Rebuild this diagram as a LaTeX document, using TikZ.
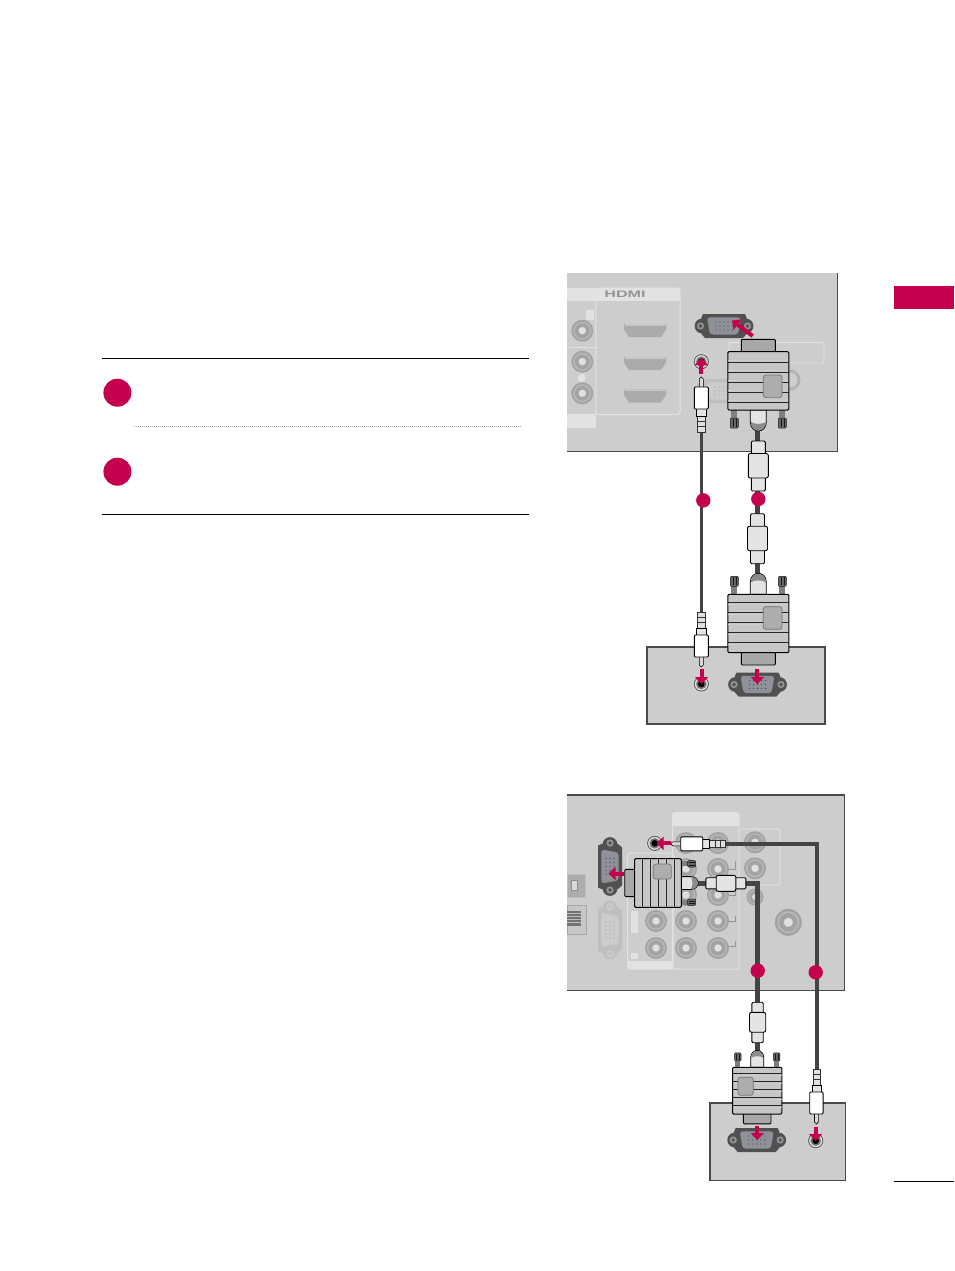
\documentclass[tikz,border=0pt]{standalone}
\usepackage{fontspec}
\setmainfont{Liberation Sans}
\usetikzlibrary{arrows.meta}
\definecolor{lgred}{HTML}{C4004F}
\definecolor{panel}{HTML}{CDCDCD}
\definecolor{edge}{HTML}{4A4A4A}
\definecolor{cablec}{HTML}{444444}
\definecolor{bodyc}{HTML}{C6C6C6}
\definecolor{lightf}{HTML}{E4E4E4}
\definecolor{groupl}{HTML}{E2E2E2}
\definecolor{vgain}{HTML}{8F9199}
\definecolor{vgaout}{HTML}{505050}
\tikzset{
  panelbox/.style={fill=panel,draw=none},
  paneledge/.style={draw=edge,line width=1.6pt},
  groupbox/.style={draw=groupl,line width=1pt,rounded corners=2.5pt},
  cable/.style={draw=cablec,line width=4.6pt},
  badge/.style={circle,fill=lgred,draw=none,inner sep=0pt,minimum size=14.4pt},
  bigbadge/.style={circle,fill=lgred,draw=none,inner sep=0pt,minimum size=28pt},
  pinarrow/.style={draw=lgred,line width=4pt,-{Triangle[length=7pt,width=13pt]}},
  rule/.style={draw=black,line width=1pt},
  plugline/.style={draw=black!85,line width=1pt},
  pics/rca/.style={code={
    \fill[black!36] (0,0) circle (#1);
    \fill[black!28] (0,0) circle ({#1*.82});
    \fill[black!36] (0,0) circle ({#1*.68});
    \fill[black!12] (0,0) circle ({#1*.34});
  }},
  pics/hdmiport/.style={code={
    \fill[black!33] (-21,-6.5) -- (21,-6.5) -- (21,-1) -- (16,6.5) -- (-16,6.5) -- (-21,-1) -- cycle;
    \fill[black!22] (-20,-6.5) rectangle (20,-4.8);
  }},
  pics/jack/.style={code={
    \fill[white!85!black] (0,0) circle (8.6);
    \fill[black!65] (0,0) circle (7.6);
    \fill[black!15] (0,0) circle (6.6);
    \fill[black!55] (0,0) circle (5.2);
    \fill[black] (0,0) circle (3.3);
  }},
  pics/vgaport/.style n args={4}{code={
    \fill[#1] (-22,0) circle (7.4) (22,0) circle (7.4);
    \fill[#1] (-22,-7.4) -- (-23,-7.4) -- (-21,-12) -- (21,-12) -- (23,-7.4) -- (22,-7.4)
      -- (22,7.4) -- (23,7.4) -- (19,12) -- (-19,12) -- (-23,7.4) -- (-22,7.4) -- cycle;
    \fill[#2,rounded corners=3pt] (-17,-8.6) -- (17,-8.6) -- (14,8.6) -- (-14,8.6) -- cycle;
    \fill[#4] (-23.5,0) circle (3.6) (23.5,0) circle (3.6);
    \fill[#1] (-23.5,0) circle (1.8) (23.5,0) circle (1.8);
    \foreach \i in {-8,-4,0,4,8}{\fill[#3] (\i,-4) circle (.6) (\i,0) circle (.6) (\i,4) circle (.6);}
  }},
  pics/vgaplug/.style={code={
    \foreach \s in {-24,24}{
      \fill[black!50] (\s-3,-9) rectangle (\s+3,0);
      \filldraw[fill=black!60,draw=black!90,line width=.5pt,rounded corners=1pt] (\s-4,-18) rectangle (\s+4,-8);
      \draw[black!90,line width=.4pt] (\s-1.5,-17) -- (\s-1.5,-9) (\s+1.5,-17) -- (\s+1.5,-9);
    }
    \filldraw[fill=lightf,draw=black,line width=.8pt] (-8,0) -- (-8,-12) .. controls (-8,-18) and (-4,-21) .. (0,-21) .. controls (4,-21) and (8,-18) .. (8,-12) -- (8,0) -- cycle;
    \fill[black!45] (-7.6,-12) .. controls (-7,-18) and (-4,-20.6) .. (0,-20.6) .. controls (4,-20.6) and (7,-18) .. (7.6,-12) .. controls (4,-14.5) and (-4,-14.5) .. (-7.6,-12) -- cycle;
    \filldraw[fill=bodyc!85!black,draw=black,line width=.9pt,rounded corners=1pt] (-17,57) rectangle (17,70.7);
    \filldraw[fill=bodyc,draw=black,line width=1pt,rounded corners=1.2pt] (-30.5,0) rectangle (30.5,58.4);
    \foreach \y in {8,18,28,38,48}{
      \draw[white!80!black,line width=.7pt] (-30,\y+1.7) -- (30,\y+1.7);
      \draw[plugline] (-30.5,\y) -- (30.5,\y);
    }
    \filldraw[fill=black!32,draw=black!55,line width=.7pt,rounded corners=2.5pt] (5,12.4) rectangle (23.7,35);
  }},
  pics/ferrite/.style={code={
    \filldraw[fill=lightf,draw=black,line width=.9pt,rounded corners=1.2pt] (-7,-25) rectangle (7,25);
    \filldraw[fill=lightf,draw=black,line width=.9pt,rounded corners=2pt] (-10,-12.5) rectangle (10,12);
  }},
  pics/audioplug/.style={code={
    \filldraw[fill=black!15,draw=black,line width=.6pt] (-2,44) -- (-2,53) -- (0,55) -- (2,53) -- (2,44) -- cycle;
    \foreach \y in {0,5.3,10.6}{
      \filldraw[fill=black!12,draw=black!80,line width=.7pt] (-3.7,\y) rectangle (3.7,\y+5.3);
    }
    \filldraw[fill=lightf,draw=black,line width=.7pt] (-4.7,16) rectangle (4.7,23.5);
    \filldraw[fill=white,draw=black,line width=.9pt,rounded corners=1pt] (-7,23) rectangle (7,45);
  }},
}
\begin{document}
\begin{tikzpicture}[x=1pt,y=-1pt]
\useasboundingbox (0,0) rectangle (954,1271);
\fill[white] (0,0) rectangle (954,1271);

% ---------- left column ----------
\draw[rule] (102,358.3) -- (529,358.3);
\draw[rule] (102,514.2) -- (529,514.2);
\draw[black!35,line width=.8pt,dash pattern=on 1pt off 1pt] (134,426.6) -- (522,426.6);
\node[bigbadge] (step1) at (117.4,392.7) {};
\node[bigbadge] (step2) at (117.4,471.7) {};

% ---------- right margin ----------
\fill[lgred] (894,286) rectangle (954,309);
\draw[black,line width=1pt] (894,1181) -- (954,1181);

% ---------- panel A ----------
\fill[panelbox] (567,273) rectangle (837.5,451);
\draw[paneledge,line width=1.2pt] (837.6,273) -- (837.6,451.2) -- (567,451.2);
\fill[groupl] (567,288) -- (680,288) -- (680,301) -- (567,301) -- cycle;
\fill[groupl,rounded corners=2pt] (567,414) rectangle (596,428);
\draw[groupbox] (595.8,288) rectangle (680,414.5);
\draw[groupl,line width=1pt] (567,347.3) -- (595.8,347.3) (567,414.5) -- (595.8,414.5);
\node[text=black!42,font=\bfseries\fontsize{9.5}{9.5}\selectfont,xscale=1.7,inner sep=0pt] (hdmilabel) at (625,294.3) {HDMI};
\pic at (582.3,330.7) {rca=11};
\pic at (582.3,361.7) {rca=11};
\pic at (582.3,393.3) {rca=11};
\fill[groupl] (586,310) rectangle (594,319.5);
\fill[groupl] (581.7,378) circle (4);
\pic at (645,330.7) {hdmiport};
\pic at (645,363.7) {hdmiport};
\pic at (645,396) {hdmiport};
\draw[groupbox,line width=.9pt] (729,342.3) rectangle (824,363);
\fill[black!30] (790,380) circle (10.5);
\fill[panel] (790,380) circle (7.5);
\pic at (723,391) {vgaport={black!25}{black!20}{black!40}{black!20}};
\pic at (724,326) {vgaport={vgaout}{vgain}{black!70}{black!42}};
\pic at (701.3,361.7) {jack};

% cables panel A
\coordinate (a1top) at (701.3,432);
\coordinate (a1bot) at (701.3,612);
\coordinate (a2top) at (757.5,431);
\coordinate (a2bot) at (757.5,573);
\draw[cable,line width=3.2pt] (a1top) -- (a1bot);
\draw[cable,line width=4.5pt] (a2top) -- (a2bot);

\pic[yscale=-1] at (701.3,432) {audioplug};
\pic[yscale=-1] at (758.3,410) {vgaplug};
\pic at (758.3,466) {ferrite};
\node[badge] (a1b) at (703.3,500.4) {};
\node[badge] (a2b) at (758.3,499) {};

% ---------- box B ----------
\fill[panelbox] (647,647) rectangle (825,724.2);
\draw[paneledge] (647,647) rectangle (825,724.2);
\pic at (701.3,684) {jack};
\pic at (757.5,684.5) {vgaport={vgaout}{vgain}{black!70}{black!42}};
\pic at (701.3,612) {audioplug};
\pic at (758.3,594.3) {vgaplug};
\pic at (757.5,538.7) {ferrite};
\coordinate (a1p) at (701.5,669); \coordinate (a1q) at (701.5,684);
\coordinate (a2p) at (757.3,669); \coordinate (a2q) at (757.3,684);
\coordinate (a3p) at (701.3,374); \coordinate (a3q) at (701.3,358);
\coordinate (a4p) at (752.7,336); \coordinate (a4q) at (732,320.5);
\draw[pinarrow] (a1p) -- (a1q);
\draw[pinarrow] (a2p) -- (a2q);
\draw[pinarrow] (a3p) -- (a3q);
\draw[pinarrow] (a4p) -- (a4q);

% ---------- panel C ----------
\fill[panelbox] (567,795) rectangle (844.6,990);
\draw[paneledge] (567,795) -- (844.6,795) -- (844.6,990.3) -- (567,990.3);
\fill[groupl,rounded corners=2pt] (672.3,812.7) rectangle (739,826);
\fill[groupl] (627.7,961) rectangle (673,969);
\draw[groupbox] (627.7,853) rectangle (673,969);
\draw[groupbox] (672.3,812.7) rectangle (739,969);
\draw[groupl,line width=1pt,rounded corners=2.5pt] (742,829) -- (780,829) -- (780,885) -- (742,885);
\draw[black!42,line width=.5pt] (728,869) -- (735,869) -- (735,861) (728,895) -- (735,895) -- (735,889)
  (728,921) -- (735,921) -- (735,916) (728,946) -- (735,946) -- (735,941);
% left modules
\filldraw[fill=black!32,draw=black!25,line width=.8pt] (567,874) rectangle (585,897);
\filldraw[fill=black!15,draw=black!45,line width=.6pt] (571,880.5) rectangle (577,890.5);
\filldraw[fill=black!22,draw=black!35,line width=.8pt] (567,905) rectangle (586.7,934);
\fill[black!55] (567,911) rectangle (581,926);
\foreach \y in {913,916,919,922}{\draw[black!25,line width=.5pt] (567,\y) -- (581,\y);}
\pic[rotate=90] at (610,930) {vgaport={black!25}{black!20}{black!40}{black!20}};
\fill[groupl] (631,910.7) rectangle (638.3,932.7);
\fill[groupl] (631,953) rectangle (638.3,959);
% jacks
\foreach \x/\y in {686/843,718/843,718/869,686/869,686/895,718/895,656/921,686/921,718/921,656/948,686/948,718/948,755/842.3,755/868.3}{
  \pic at (\x,\y) {rca=11};
}
\pic at (755,897) {rca=8.5};
\pic at (788.3,922.3) {rca=13.5};
\pic at (654.7,843.3) {jack};
\pic[rotate=90] at (610,866.5) {vgaport={vgaout}{vgain}{black!70}{black!42}};

% cables panel C
\coordinate (c1a) at (698,883.3);
\coordinate (c1b) at (757.7,883.3);
\coordinate (c1c) at (757.7,1051);
\coordinate (c2a) at (725.7,843.8);
\coordinate (c2b) at (816.8,843.8);
\coordinate (c2c) at (816.8,1069);
\draw[cable,line join=miter] (c1a) -- (c1b) -- (c1c);
\draw[cable,line join=miter] (c2a) -- (c2b) -- (c2c);

% ---------- box D ----------
\fill[panelbox] (710,1103) rectangle (845.6,1180.6);
\draw[paneledge] (710,1103) rectangle (845.6,1180.6);
\pic at (815.7,1140.7) {jack};
\pic at (756.7,1140) {vgaport={vgaout}{vgain}{black!70}{black!42}};

\pic[xscale=-.81,yscale=.8] at (757.2,1067.3) {vgaplug};
\pic[scale=.81] at (757.6,1022.5) {ferrite};
\pic[xscale=.95,yscale=1] at (816.4,1069) {audioplug};
\pic[rotate=-90,xscale=-.8,yscale=.8] at (681.3,883) {vgaplug};
\pic[rotate=-90] at (725.7,843.8) {audioplug};
\pic[rotate=-90,xscale=.8,yscale=.8] at (725.8,883.3) {ferrite};

\coordinate (c3p) at (671,843.3); \coordinate (c3q) at (656.5,843.3);
\coordinate (c4p) at (624,873.5); \coordinate (c4q) at (608.5,873.5);
\coordinate (c5p) at (757.3,1125.5); \coordinate (c5q) at (757.3,1140);
\coordinate (c6p) at (815.7,1126.5); \coordinate (c6q) at (815.7,1141);
\draw[pinarrow] (c3p) -- (c3q);
\draw[pinarrow] (c4p) -- (c4q);
\draw[pinarrow] (c5p) -- (c5q);
\draw[pinarrow] (c6p) -- (c6q);
\node[badge] (c1n) at (757.7,970.7) {};
\node[badge] (c2n) at (815.7,972.3) {};
\end{tikzpicture}
\end{document}
